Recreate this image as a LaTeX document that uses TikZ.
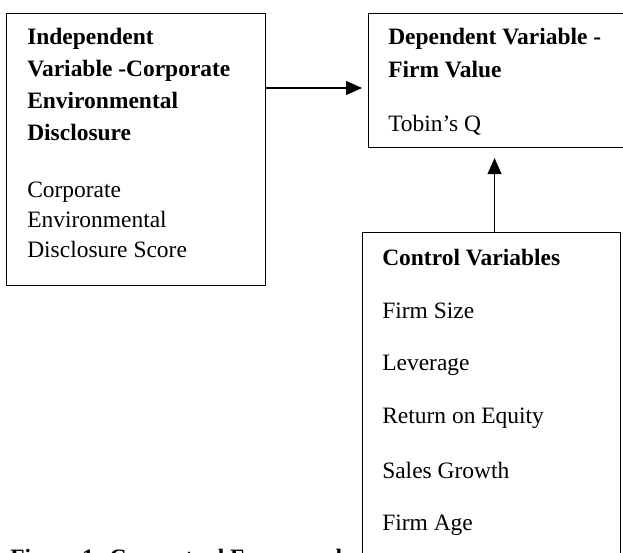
\documentclass[tikz,border=0pt]{standalone}
\usepackage{fontspec}
\setmainfont{Liberation Serif}
\usetikzlibrary{positioning,arrows.meta}

\tikzset{
  frame/.style={draw, line width=0.8pt, anchor=north west, inner sep=0pt},
  txt/.style={anchor=base west, inner sep=0pt, font=\fontsize{17.6}{21}\selectfont},
  hd/.style={txt, font=\fontsize{17.6}{21}\selectfont\bfseries},
  link/.style={-{Triangle[length=12pt,width=10.5pt]}, line width=0.8pt}
}

\begin{document}
\begin{tikzpicture}[x=0.75pt,y=-0.75pt]
\useasboundingbox (0,0) rectangle (623,552);
\clip (0,0) rectangle (623,552);
\node[frame, minimum width=194.25pt, minimum height=204pt] (lbox) at (6,13) {};
\node[frame, minimum width=196.5pt, minimum height=100.5pt] (tbox) at (368,13) {};
\node[frame, minimum width=193.5pt, minimum height=246pt] (cbox) at (362,232) {};
%----------------------------------
\node[hd] (l1) at (27,45) {Independent};
\node[hd, below=23.8pt of l1.base west, anchor=base west] (l2) {Variable -Corporate};
\node[hd, below=23.8pt of l2.base west, anchor=base west] (l3) {Environmental};
\node[hd, below=23.8pt of l3.base west, anchor=base west] (l4) {Disclosure};
\node[txt, below=42.75pt of l4.base west, anchor=base west] (l5) {Corporate};
\node[txt, below=22.5pt of l5.base west, anchor=base west] (l6) {Environmental};
\node[txt, below=22.5pt of l6.base west, anchor=base west] (l7) {Disclosure Score};
%----------------------------------
\node[hd] (t1) at (388,45) {Dependent Variable -};
\node[hd, below=24.75pt of t1.base west, anchor=base west] (t2) {Firm Value};
\node[txt, below=40.5pt of t2.base west, anchor=base west] (t3) {Tobin’s Q};
%----------------------------------
\node[hd] (c1) at (382,265) {Control Variables};
\node[txt, below=39.75pt of c1.base west, anchor=base west] (c2) {Firm Size};
\node[txt, below=39pt of c2.base west, anchor=base west] (c3) {Leverage};
\node[txt, below=39.75pt of c3.base west, anchor=base west] (c4) {Return on Equity};
\node[txt, below=41.25pt of c4.base west, anchor=base west] (c5) {Sales Growth};
\node[txt, below=39pt of c5.base west, anchor=base west] (c6) {Firm Age};
%---------------------------------
\node[hd] (cap) at (10,565) {Figure 1: Conceptual Framework};
%---------------------------------
\coordinate (h0) at ([yshift=-56.25pt]lbox.north east);
\coordinate (v0) at ([xshift=2.25pt]cbox.north);
\draw[link, shorten >=4.5pt] (h0) -- (h0 -| tbox.west);
\draw[link, shorten >=7.5pt] (v0) -- (v0 |- tbox.south);
\end{tikzpicture}
\end{document}
